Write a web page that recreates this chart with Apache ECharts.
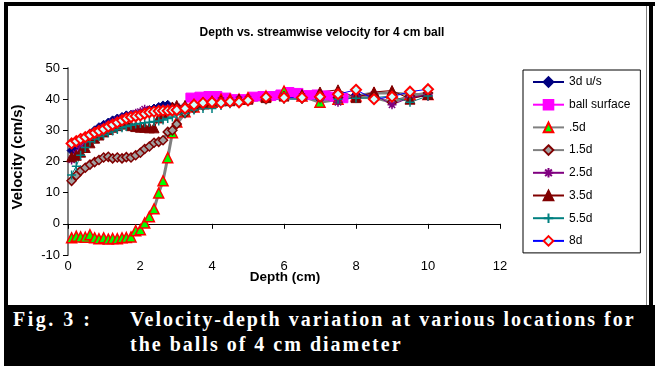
<!DOCTYPE html>
<html>
<head>
<meta charset="utf-8">
<script src="https://cdn.jsdelivr.net/npm/echarts@6/dist/echarts.min.js"></script>
<style>
html,body{margin:0;padding:0;background:#fff;}
#wrap{position:relative;width:655px;height:366px;overflow:hidden;}
#chart{position:absolute;left:0;top:0;width:655px;height:366px;}
#cap{position:absolute;left:5px;top:305px;width:650px;height:61px;background:#000;color:#fff;
 font-family:"Liberation Serif","Times New Roman",serif;font-weight:bold;font-size:20px;letter-spacing:2px;line-height:22px;}
#cap span{position:absolute;white-space:nowrap;}
</style>
</head>
<body>
<div id="wrap">
<div id="chart"></div>
<div id="cap"><span style="left:8px;top:3px;letter-spacing:2.5px">Fig. 3 :</span><span style="left:125px;top:3px">Velocity-depth variation at various locations for</span><span style="left:125px;top:28px">the balls of 4 cm diameter</span></div>
</div>
<script>
// Depth (cm) sample positions
var depth = [0.1, 0.23, 0.35, 0.48, 0.61, 0.74, 0.86, 0.99, 1.12, 1.24, 1.37, 1.5, 1.62, 1.75, 1.88, 2.01, 2.13, 2.26, 2.39, 2.52, 2.64, 2.77, 2.9, 3.02,
             3.25, 3.5, 3.75, 4, 4.25, 4.5, 4.75, 5,
             5.5, 6, 6.5, 7, 7.5, 8, 8.5, 9, 9.5, 10];
var u3d = [23.5, 25, 26.5, 27.8, 29, 30, 31, 31.8, 32.5, 33.2, 33.8, 34.3, 34.8, 35, 35.2, 35.6, 36, 36.5, 37, 37.5, 38, 38.2, 37.5, 37.2,
           37, 37.8, 38.5, 39, 39.2, 39.5, 39.3, 39.5,
           40, 40.5, 40.5, 40, 40.2, 41.5, 41, 39, 40.5, 41];
var d05 = [-4.5, -4, -4.2, -4.3, -3.5, -4.5, -4.8, -4.5, -4.9, -4.7, -4.8, -4.5, -4.4, -4.2, -2.2, -1.9, 0.3, 2.3, 4.8, 9.9, 13.8, 21.2, 29.2, 32.7,
           36, 37.5, 38.5, 39, 40, 40, 40, 40.5,
           41, 42.6, 41, 39, 40, 41, 42, 42, 41.5, 41.5];
var d15 = [13.8, 15.5, 17, 18, 19, 19.8, 20.5, 21.3, 21.5, 21, 21.3, 21, 21.4, 21.3, 22, 22.8, 24, 24.8, 26, 26.3, 26.8, 29.5, 30, 32,
           35.5, 37, 38, 38.8, 39, 39, 39.2, 39.5,
           40, 40.5, 40.2, 40.5, 40.5, 40.5, 40.5, 39, 41, 42];
var d25 = [20.5, 22.5, 24.5, 26, 27.5, 28.8, 30, 31, 31.8, 32.5, 33.2, 33.8, 34.2, 34.8, 35.5, 36, 36.8, 36, 36.2, 36.5, 36.8, 37, 37.2, 37.5,
           37.5, 38, 38.5, 39, 39.5, 39.5, 39.8, 40,
           40.5, 41, 40.8, 40.5, 39, 41, 41.5, 38.2, 40.5, 41.5];
var d35 = [21.5, 22, 23, 24.5, 26, 27.5, 28.5, 29.5, 30.3, 31, 31.5, 32, 32.5, 31.5, 31.2, 31, 31, 30.8, 30.8, 34, 35.5, 36.5, 37.5, 38,
           38, 38.5, 39, 39.5, 39.5, 39.5, 40, 40,
           40.5, 41, 41.5, 42.3, 43, 40.5, 42.3, 42.8, 40, 41.5];
var d55 = [15.7, 18.5, 22, 24.5, 26.3, 27.2, 28, 28.6, 29.2, 29.8, 30.3, 30.8, 31.2, 31.6, 32, 32.2, 32.4, 32.6, 32.8, 33, 33.3, 33.8, 34.3, 35,
           35.5, 36.5, 37, 37, 38, 38.5, 39, 39.3,
           40, 40, 40, 40, 40, 40.3, 40.5, 41, 39, 41];
var d8 = [25.8, 26.5, 27.2, 27.8, 28.5, 29.2, 29.8, 30.4, 31.2, 31.8, 32.5, 33.2, 33.8, 34.2, 34.5, 34.8, 35.3, 35.8, 36, 36.2, 36.3, 36.3, 36.4, 36.5,
          37, 38.2, 38.8, 39, 38.8, 39.2, 39, 39.6,
          40.6, 40.5, 40.5, 40.8, 41.6, 43, 40, 40.8, 42.4, 43.2];
// ball surface has its own depth positions
var ballDepth = [3.4, 3.65, 3.9, 4.15, 4.4, 4.65, 4.9, 5.15, 5.4, 5.65, 5.9, 6.15, 6.4, 6.65, 6.9, 7.15, 7.4, 7.65];
var ballVel = [40.5, 40.8, 41, 41, 40.5, 40, 40, 40.8, 41, 41, 41.5, 42.3, 42, 41.3, 41.5, 41.2, 40.8, 40.3];

var seriesNames = ['3d u/s', 'ball surface', '.5d', '1.5d', '2.5d', '3.5d', '5.5d', '8d'];
var xTicks = {min: 0, max: 12, interval: 2};
var yTicks = {min: -10, max: 50, interval: 10};

function pairs(xs, ys) { return xs.map(function (x, i) { return [x, ys[i]]; }); }

var FONT = '"Liberation Sans", Arial, sans-serif';
var star = 'path://M5,0L5,10M0,5L10,5M1.5,1.5L8.5,8.5M8.5,1.5L1.5,8.5';
var plus = 'path://M5,0L5,10M0,5L10,5';

function mk(name, data, o) {
  return {
    name: name, type: 'line', data: data, animation: false,
    symbol: o.symbol, symbolSize: o.size,
    lineStyle: {color: o.line, width: o.lw || 1},
    itemStyle: {color: o.fill, borderColor: o.border, borderWidth: o.bw || 1},
    emphasis: {disabled: true}
  };
}

var chart = echarts.init(document.getElementById('chart'), null, {renderer: 'canvas'});
chart.setOption({
  backgroundColor: '#fff',
  animation: false,
  title: {
    text: 'Depth vs. streamwise velocity for 4 cm ball',
    left: 317, top: 22, textAlign: 'center',
    textStyle: {fontFamily: FONT, fontSize: 12, fontWeight: 'bold', color: '#000'}
  },
  grid: {left: 68, right: 155, top: 68, bottom: 111, containLabel: false},
  xAxis: {
    type: 'value', min: xTicks.min, max: xTicks.max, interval: xTicks.interval,
    axisLine: {onZero: true, lineStyle: {color: '#000', width: 1}},
    axisTick: {length: 5, lineStyle: {color: '#000'}},
    axisLabel: {color: '#000', fontSize: 13, fontFamily: FONT, margin: 5},
    splitLine: {show: false}
  },
  yAxis: {
    type: 'value', min: yTicks.min, max: yTicks.max, interval: yTicks.interval,
    axisLine: {show: true, onZero: false, lineStyle: {color: '#808080', width: 2}},
    axisTick: {show: true, length: 5, lineStyle: {color: '#000'}},
    axisLabel: {color: '#000', fontSize: 13, fontFamily: FONT, margin: 8},
    splitLine: {show: false}
  },
  legend: {
    orient: 'vertical', left: 523, top: 70,
    data: seriesNames,
    itemWidth: 31, itemHeight: 12, itemGap: 10.7,
    padding: [6, 10, 6, 9],
    borderColor: '#000', borderWidth: 1,
    textStyle: {fontFamily: FONT, fontSize: 12, color: '#000'},
    selectedMode: false
  },
  graphic: [
    {type: 'rect', shape: {x: 4, y: 2, width: 651, height: 4}, style: {fill: '#000'}, silent: true},
    {type: 'rect', shape: {x: 4, y: 2, width: 4, height: 364}, style: {fill: '#000'}, silent: true},
    {type: 'rect', shape: {x: 649, y: 2, width: 4, height: 364}, style: {fill: '#000'}, silent: true},
    {type: 'rect', shape: {x: 646, y: 6, width: 1, height: 300}, style: {fill: '#808080'}, silent: true},
    {type: 'text', x: 18, y: 157, rotation: Math.PI / 2,
     style: {text: 'Velocity (cm/s)', font: 'bold 15px ' + FONT, fill: '#000', textAlign: 'center', textVerticalAlign: 'middle'}},
    {type: 'text', x: 285, y: 277,
     style: {text: 'Depth (cm)', font: 'bold 13.5px ' + FONT, fill: '#000', textAlign: 'center', textVerticalAlign: 'middle'}}
  ],
  series: [
    mk(seriesNames[0], pairs(depth, u3d), {symbol: 'diamond', size: 9, line: '#000080', fill: '#000080', border: '#000080'}),
    mk(seriesNames[1], pairs(ballDepth, ballVel), {symbol: 'rect', size: 9, line: '#FF00FF', fill: '#FF00FF', border: '#FF00FF'}),
    mk(seriesNames[2], pairs(depth, d05), {symbol: 'triangle', size: 10, line: '#808080', lw: 3, fill: '#00FF00', border: '#FF0000', bw: 1.5}),
    mk(seriesNames[3], pairs(depth, d15), {symbol: 'diamond', size: 9, line: '#808080', lw: 3, fill: '#A0A0A0', border: '#800000', bw: 1.5}),
    mk(seriesNames[4], pairs(depth, d25), {symbol: star, size: 9, line: '#800080', fill: '#800080', border: '#800080', bw: 1.5}),
    mk(seriesNames[5], pairs(depth, d35), {symbol: 'triangle', size: 10, line: '#800000', fill: '#800000', border: '#800000'}),
    mk(seriesNames[6], pairs(depth, d55), {symbol: plus, size: 9, line: '#008080', fill: '#008080', border: '#008080', bw: 1.5}),
    mk(seriesNames[7], pairs(depth, d8), {symbol: 'diamond', size: 10, line: '#0000FF', fill: '#CCFFFF', border: '#FF0000', bw: 2})
  ]
});
</script>
</body>
</html>
